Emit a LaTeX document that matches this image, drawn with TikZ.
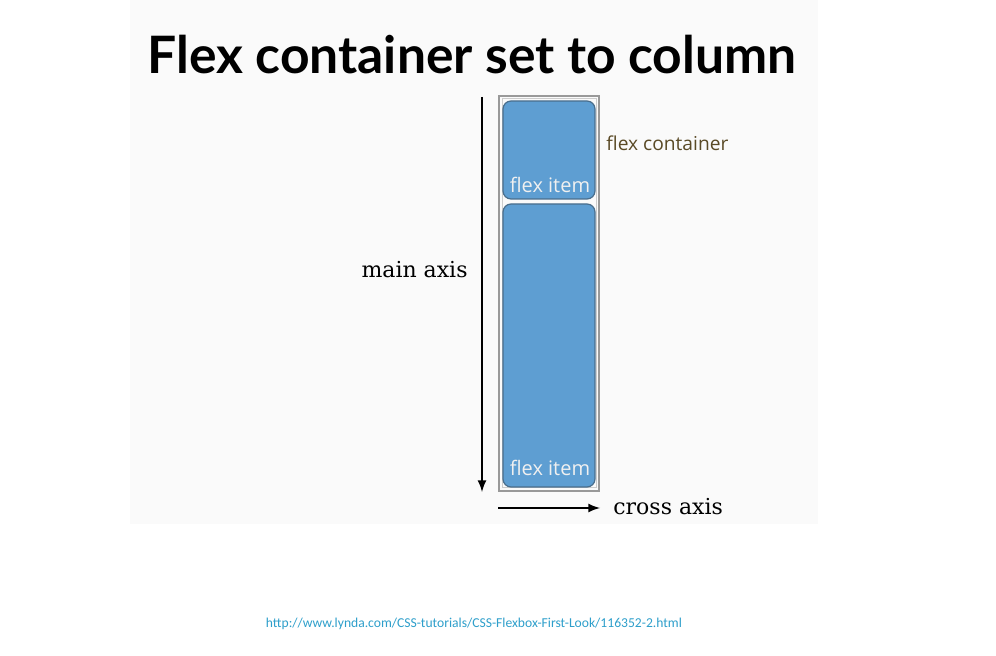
\documentclass[tikz,border=0pt]{standalone}
\usepackage{fontspec}
\setmainfont{DejaVu Serif}
\newfontfamily\titlefont{Lato}
\newfontfamily\uifont{Open Sans}
\newfontfamily\urlfont{Carlito}
\usetikzlibrary{calc}

\definecolor{panelgray}{HTML}{FAFAFA}
\definecolor{itemblue}{HTML}{5E9ED2}
\definecolor{itemedge}{HTML}{4A6E8C}
\definecolor{labelbrown}{HTML}{5A4A26}
\definecolor{urlblue}{HTML}{2E9FCB}

\tikzset{
  flexitem/.style={draw=itemedge,fill=itemblue,rounded corners=4pt,line width=0.6pt},
  itemlabel/.style={font=\uifont\fontsize{10}{10}\selectfont,text=white!88!gray,anchor=base},
  axislabel/.style={font=\fontsize{11}{11}\selectfont,inner sep=0pt},
  axisarrow/.style={line width=1pt,-latex}
}

\begin{document}
\begin{tikzpicture}[x=0.5pt,y=-0.5pt]
\useasboundingbox (0,0) rectangle (996,656);
\fill[white] (0,0) rectangle (996,656);
\fill[panelgray] (130,0) rectangle (818,524);
\draw (472,74) node[anchor=base,font=\titlefont\bfseries\fontsize{25.8}{25.8}\selectfont] (title) {Flex container set to column};
% container with double frame
\draw[gray!80,line width=0.8pt] (499,96) rectangle (599,491);
\draw[gray!40,line width=0.5pt] (502,99) rectangle (596,488);
\draw[flexitem] (503,101) rectangle (595,199);
\draw[flexitem] (503,204) rectangle (595,487);
\draw (550,193) node[itemlabel] (itemA) {flex item};
\draw (550,476) node[itemlabel] (itemB) {flex item};
\draw (606,143) node[anchor=west,inner sep=0pt,font=\uifont\fontsize{9.6}{9.6}\selectfont,text=labelbrown] (cont) {flex container};
% axes
\coordinate (mainA) at (482,97);
\coordinate (mainB) at (482,492);
\draw[axisarrow] (mainA) -- (mainB);
\draw (468,270) node[anchor=east,axislabel] (mainlbl) {main axis};
\coordinate (crossA) at (498,508);
\coordinate (crossB) at (600,508);
\draw[axisarrow] (crossA) -- (crossB);
\draw (613,507) node[anchor=west,axislabel] (crosslbl) {cross axis};
\draw (474,624) node[font=\urlfont\fontsize{6.8}{6.8}\selectfont,text=urlblue] (src) {http://www.lynda.com/CSS-tutorials/CSS-Flexbox-First-Look/116352-2.html};
\end{tikzpicture}
\end{document}
